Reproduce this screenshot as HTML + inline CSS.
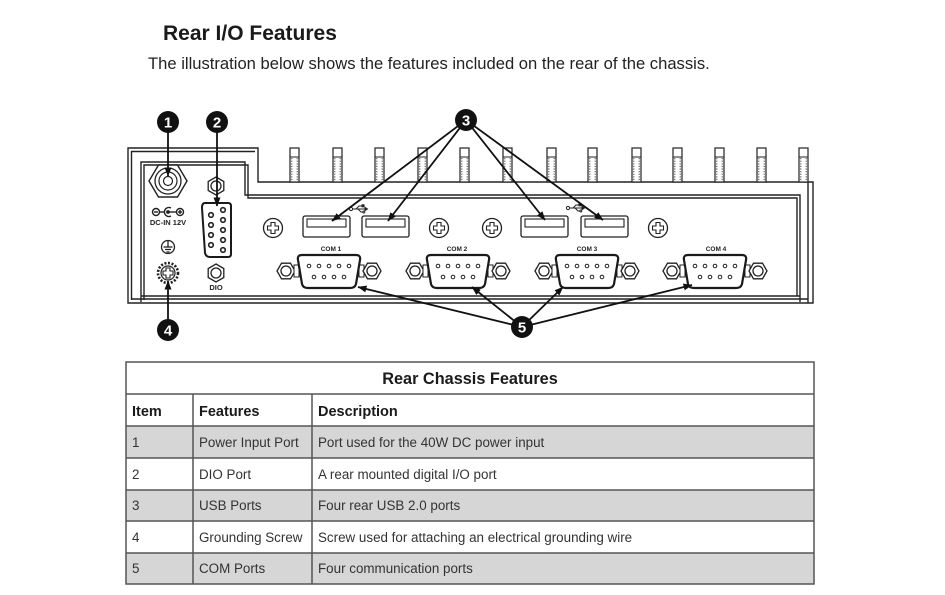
<!DOCTYPE html>
<html>
<head>
<meta charset="utf-8">
<style>
  html,body{margin:0;padding:0;background:#fff;}
  svg{display:block;}
  text{font-family:"Liberation Sans",Arial,sans-serif;}
</style>
</head>
<body>
<svg width="945" height="595" viewBox="0 0 945 595" xmlns="http://www.w3.org/2000/svg">
  <defs>
    <marker id="ah" markerWidth="9" markerHeight="7" refX="8.5" refY="3.5" orient="auto" markerUnits="userSpaceOnUse">
      <path d="M0,0 L9,3.5 L0,7 z" fill="#111"/>
    </marker>
    <g id="screw">
      <circle r="9.5" fill="#fff" stroke="#222" stroke-width="1.3"/>
      <path d="M-2,-5.5H2V-2H5.5V2H2V5.5H-2V2H-5.5V-2H-2Z" fill="none" stroke="#222" stroke-width="1.1"/>
    </g>
    <g id="nut">
      <polygon points="-9,0 -4.5,-7.8 4.5,-7.8 9,0 4.5,7.8 -4.5,7.8" fill="#fff" stroke="#222" stroke-width="1.3"/>
      <circle r="5" fill="none" stroke="#222" stroke-width="1.3"/>
    </g>
    <g id="vnut">
      <polygon points="0,-9 7.8,-4.5 7.8,4.5 0,9 -7.8,4.5 -7.8,-4.5" fill="#fff" stroke="#222" stroke-width="1.3"/>
      <circle r="5" fill="none" stroke="#222" stroke-width="1.3"/>
    </g>
    <g id="com">
      <use href="#nut" x="-43" y="0"/>
      <rect x="-35" y="-6" width="5" height="12" fill="#fff" stroke="#222" stroke-width="1"/>
      <rect x="30" y="-6" width="5" height="12" fill="#fff" stroke="#222" stroke-width="1"/>
      <use href="#nut" x="43" y="0"/>
      <path d="M-27,-16 H27 Q32,-16 31,-11 L27,13 Q26,17 21,17 H-21 Q-26,17 -27,13 L-31,-11 Q-32,-16 -27,-16 Z" fill="#fff" stroke="#1a1a1a" stroke-width="2.2"/>
      <g fill="none" stroke="#222" stroke-width="1">
        <circle cx="-20" cy="-5" r="1.8"/><circle cx="-10" cy="-5" r="1.8"/><circle cx="0" cy="-5" r="1.8"/><circle cx="10" cy="-5" r="1.8"/><circle cx="20" cy="-5" r="1.8"/>
        <circle cx="-15" cy="6" r="1.8"/><circle cx="-5" cy="6" r="1.8"/><circle cx="5" cy="6" r="1.8"/><circle cx="15" cy="6" r="1.8"/>
      </g>
    </g>
    <g id="usb">
      <rect x="0" y="0" width="47" height="21" rx="2" fill="#fff" stroke="#222" stroke-width="1.3"/>
      <rect x="4" y="3" width="39" height="8" fill="none" stroke="#222" stroke-width="1.1"/>
    </g>
    <g id="usbsym" fill="none" stroke="#222" stroke-width="1">
      <circle cx="-7" cy="0" r="1.6"/>
      <path d="M-5.4,0 H7"/>
      <path d="M-2,0 L1,-3 H4"/>
      <rect x="4" y="-4.2" width="2" height="2" fill="#222"/>
      <path d="M0,0 L3,3 H5"/>
      <circle cx="5.8" cy="3" r="1"/>
      <path d="M7,-1.6 L9.5,0 L7,1.6 Z" fill="#222"/>
    </g>
    <g id="fin">
      <rect x="0" y="148" width="9" height="34" fill="#fff" stroke="#222" stroke-width="1.2"/>
      <line x1="0" y1="157" x2="9" y2="157" stroke="#222" stroke-width="1"/>
      <line x1="1.8" y1="158" x2="1.8" y2="181" stroke="#444" stroke-width="1" stroke-dasharray="1.3,1.3"/>
      <line x1="7.2" y1="158" x2="7.2" y2="181" stroke="#444" stroke-width="1" stroke-dasharray="1.3,1.3"/>
    </g>
  </defs>

  <!-- Heading -->
  <text x="163" y="40" font-size="21" font-weight="bold" fill="#1a1a1a">Rear I/O Features</text>
  <text x="148" y="69" font-size="16.6" fill="#222">The illustration below shows the features included on the rear of the chassis.</text>

  <!-- Chassis -->
  <g fill="none" stroke="#222" stroke-width="1.4">
    <path d="M128,303 V148 H258 V182 H813 V303 Z"/>
    <path d="M131.5,300 V151.5 H255"/>
    <path d="M141,302 V162 H245 V195 H800 V302"/>
    <path d="M144,300 V165 H248 V198 H797 V296"/>
    <line x1="141" y1="296" x2="800" y2="296"/>
    <line x1="131.5" y1="299" x2="808" y2="299"/>
    <line x1="808" y1="182" x2="808" y2="303"/>
  </g>
  <!-- fins -->
  <use href="#fin" x="290"/><use href="#fin" x="333"/><use href="#fin" x="375"/><use href="#fin" x="418"/>
  <use href="#fin" x="460"/><use href="#fin" x="503"/><use href="#fin" x="547"/><use href="#fin" x="588"/>
  <use href="#fin" x="632"/><use href="#fin" x="673"/><use href="#fin" x="715"/><use href="#fin" x="757"/>
  <use href="#fin" x="799"/>

  <!-- Power jack -->
  <polygon points="187,181 177.5,165 158.5,165 149,181 158.5,197 177.5,197" fill="#fff" stroke="#222" stroke-width="1.4"/>
  <circle cx="168" cy="181" r="13" fill="none" stroke="#222" stroke-width="1.3"/>
  <circle cx="168" cy="181" r="9" fill="none" stroke="#222" stroke-width="1.2"/>
  <circle cx="168" cy="181" r="4.5" fill="none" stroke="#222" stroke-width="1.2"/>
  <!-- DC symbol -->
  <g fill="none" stroke="#222" stroke-width="1.4">
    <circle cx="156" cy="212" r="3.5"/>
    <line x1="154" y1="212" x2="158" y2="212"/>
    <line x1="159.5" y1="212" x2="164" y2="212"/>
    <path d="M171,208 A4.5,4.5 0 1 0 171,216"/>
    <circle cx="168" cy="212" r="1.2" fill="#222"/>
    <line x1="169" y1="212" x2="176.5" y2="212"/>
    <circle cx="180" cy="212" r="3.5"/>
    <line x1="178" y1="212" x2="182" y2="212"/>
    <line x1="180" y1="210" x2="180" y2="214"/>
  </g>
  <text x="168" y="225" font-size="7.5" font-weight="bold" text-anchor="middle" fill="#222">DC-IN 12V</text>

  <!-- Ground symbol -->
  <g fill="none" stroke="#222" stroke-width="1.3">
    <circle cx="168" cy="247" r="6.5"/>
    <line x1="168" y1="241" x2="168" y2="247"/>
    <line x1="163.5" y1="247" x2="172.5" y2="247"/>
    <line x1="165" y1="249.5" x2="171" y2="249.5"/>
    <line x1="166.5" y1="252" x2="169.5" y2="252"/>
  </g>
  <!-- Grounding screw -->
  <circle cx="168" cy="273" r="10" fill="#fff" stroke="#222" stroke-width="2.6" stroke-dasharray="2,1.6"/>
  <circle cx="168" cy="273" r="7" fill="#fff" stroke="#222" stroke-width="1.2"/>
  <path d="M166,268 H170 V271 H173 V275 H170 V278 H166 V275 H163 V271 H166 Z" fill="none" stroke="#222" stroke-width="1.1"/>

  <!-- DIO -->
  <use href="#vnut" x="216" y="186"/>
  <use href="#vnut" x="216" y="273"/>
  <path d="M205,203 H228 Q231,203 231,206 V254 Q231,257 228,257 H210 Q206,257 205,253 L202,208 Q202,203 205,203 Z" fill="#fff" stroke="#1a1a1a" stroke-width="2"/>
  <g fill="none" stroke="#222" stroke-width="1.6">
    <circle cx="223" cy="210" r="2.3"/><circle cx="223" cy="220" r="2.3"/><circle cx="223" cy="230" r="2.3"/><circle cx="223" cy="240" r="2.3"/><circle cx="223" cy="250" r="2.3"/>
    <circle cx="211" cy="215" r="2.3"/><circle cx="211" cy="225" r="2.3"/><circle cx="211" cy="235" r="2.3"/><circle cx="211" cy="245" r="2.3"/>
  </g>
  <text x="216" y="290" font-size="7.5" font-weight="bold" text-anchor="middle" fill="#222">DIO</text>

  <!-- Screws -->
  <use href="#screw" x="273" y="228"/>
  <use href="#screw" x="439" y="228"/>
  <use href="#screw" x="492" y="228"/>
  <use href="#screw" x="658" y="228"/>

  <!-- USB -->
  <use href="#usb" x="303" y="216"/>
  <use href="#usb" x="362" y="216"/>
  <use href="#usb" x="521" y="216"/>
  <use href="#usb" x="581" y="216"/>
  <use href="#usbsym" x="358" y="209"/>
  <use href="#usbsym" x="575" y="208"/>

  <!-- COM ports -->
  <use href="#com" x="329" y="271"/>
  <use href="#com" x="458" y="271"/>
  <use href="#com" x="587" y="271"/>
  <use href="#com" x="715" y="271"/>
  <g font-size="6.5" font-weight="bold" text-anchor="middle" fill="#222">
    <text x="331" y="251">COM 1</text>
    <text x="457" y="251">COM 2</text>
    <text x="587" y="251">COM 3</text>
    <text x="716" y="251">COM 4</text>
  </g>

  <!-- Callout lines -->
  <g stroke="#111" stroke-width="1.8" fill="none">
    <line x1="168" y1="122" x2="168" y2="176" marker-end="url(#ah)"/>
    <line x1="217" y1="122" x2="217" y2="206" marker-end="url(#ah)"/>
    <line x1="168" y1="330" x2="168" y2="281" marker-end="url(#ah)"/>
    <line x1="466" y1="120" x2="332" y2="221" marker-end="url(#ah)"/>
    <line x1="466" y1="120" x2="388" y2="221" marker-end="url(#ah)"/>
    <line x1="466" y1="120" x2="545" y2="220" marker-end="url(#ah)"/>
    <line x1="466" y1="120" x2="603" y2="220" marker-end="url(#ah)"/>
    <line x1="522" y1="327" x2="358" y2="287" marker-end="url(#ah)"/>
    <line x1="522" y1="327" x2="472" y2="287" marker-end="url(#ah)"/>
    <line x1="522" y1="327" x2="563" y2="287" marker-end="url(#ah)"/>
    <line x1="522" y1="327" x2="692" y2="285" marker-end="url(#ah)"/>
  </g>

  <!-- Badges -->
  <g>
    <circle cx="168" cy="122" r="11" fill="#111"/>
    <circle cx="217" cy="122" r="11" fill="#111"/>
    <circle cx="466" cy="120" r="11" fill="#111"/>
    <circle cx="168" cy="330" r="11" fill="#111"/>
    <circle cx="522" cy="327" r="11" fill="#111"/>
  </g>
  <g font-size="15" font-weight="bold" fill="#fff" text-anchor="middle">
    <text x="168" y="127.5">1</text>
    <text x="217" y="127.5">2</text>
    <text x="466" y="125.5">3</text>
    <text x="168" y="335.5">4</text>
    <text x="522" y="332.5">5</text>
  </g>

  <!-- Table -->
  <rect x="126" y="426" width="688" height="32" fill="#d6d6d6"/>
  <rect x="126" y="490" width="688" height="31" fill="#d6d6d6"/>
  <rect x="126" y="553" width="688" height="31" fill="#d6d6d6"/>
  <g stroke="#555" stroke-width="1.5" fill="none">
    <rect x="126" y="362" width="688" height="222"/>
    <line x1="126" y1="394" x2="814" y2="394"/>
    <line x1="126" y1="426" x2="814" y2="426"/>
    <line x1="126" y1="458" x2="814" y2="458"/>
    <line x1="126" y1="490" x2="814" y2="490"/>
    <line x1="126" y1="521" x2="814" y2="521"/>
    <line x1="126" y1="553" x2="814" y2="553"/>
    <line x1="193" y1="394" x2="193" y2="584"/>
    <line x1="312" y1="394" x2="312" y2="584"/>
  </g>
  <text x="470" y="384" font-size="16.3" font-weight="bold" text-anchor="middle" fill="#1a1a1a">Rear Chassis Features</text>
  <g font-size="14.5" font-weight="bold" fill="#1a1a1a">
    <text x="132" y="416">Item</text>
    <text x="199" y="416">Features</text>
    <text x="318" y="416">Description</text>
  </g>
  <g font-size="13.4" fill="#333">
    <text x="132" y="447">1</text>
    <text x="199" y="447">Power Input Port</text>
    <text x="318" y="447">Port used for the 40W DC power input</text>
    <text x="132" y="479">2</text>
    <text x="199" y="479">DIO Port</text>
    <text x="318" y="479">A rear mounted digital I/O port</text>
    <text x="132" y="510">3</text>
    <text x="199" y="510">USB Ports</text>
    <text x="318" y="510">Four rear USB 2.0 ports</text>
    <text x="132" y="542">4</text>
    <text x="199" y="542">Grounding Screw</text>
    <text x="318" y="542">Screw used for attaching an electrical grounding wire</text>
    <text x="132" y="573">5</text>
    <text x="199" y="573">COM Ports</text>
    <text x="318" y="573">Four communication ports</text>
  </g>
</svg>
</body>
</html>
